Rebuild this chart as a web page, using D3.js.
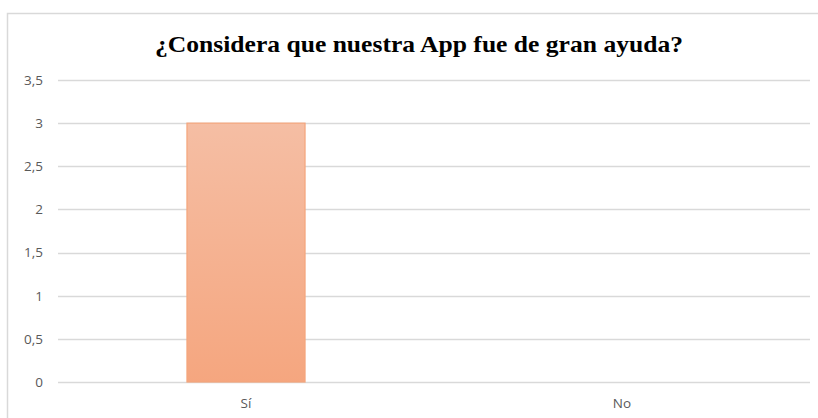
<!DOCTYPE html>
<html><head><meta charset="utf-8">
<script src="https://cdn.jsdelivr.net/npm/d3@7"></script>
<style>body{margin:0;background:#fff}svg{display:block}</style>
</head><body>
<svg id="c" width="818" height="418"></svg>
<script>
const categories = ["Sí", "No"];
const values = [3, 0];
const yTicks = [0, 0.5, 1, 1.5, 2, 2.5, 3, 3.5];
const title = "¿Considera que nuestra App fue de gran ayuda?";

const svg = d3.select("#c");
const W = 818, H = 418;
const m = {left: 58, right: 8, top: 80, bottom: 36};

// chart border
svg.append("rect").attr("x", 7.5).attr("y", 13.5).attr("width", 830).attr("height", 430)
  .attr("fill", "#fff").attr("stroke", "#d9d9d9").attr("stroke-width", 1.5);

const x = d3.scaleBand().domain(categories).range([m.left, W - m.right])
  .paddingInner(0.686).paddingOuter(0.343);
const y = d3.scaleLinear().domain([0, 3.5]).range([H - m.bottom, m.top]);

const defs = svg.append("defs");
const g = defs.append("linearGradient").attr("id", "bg").attr("x1", 0).attr("y1", 0).attr("x2", 0).attr("y2", 1);
g.append("stop").attr("offset", "0%").attr("stop-color", "#f5bea4");
g.append("stop").attr("offset", "100%").attr("stop-color", "#f5a67f");

// grid
svg.append("g").selectAll("line").data(yTicks).join("line")
  .attr("x1", m.left).attr("x2", W - m.right)
  .attr("y1", d => Math.round(y(d)) + 0.5).attr("y2", d => Math.round(y(d)) + 0.5)
  .attr("stroke", "#d9d9d9").attr("stroke-width", 1.3);

// y axis labels
const fmt = d => String(d).replace(".", ",");
const yAxis = d3.axisLeft(y).tickValues(yTicks).tickFormat(fmt).tickSize(0).tickPadding(15);
const ya = svg.append("g").attr("transform", `translate(${m.left},0)`).call(yAxis);
ya.select(".domain").remove();
ya.selectAll("text").attr("fill", "#595959").attr("font-family", "'Open Sans', sans-serif").attr("font-size", 13.5);

// x axis labels
const xAxis = d3.axisBottom(x).tickSize(0).tickPadding(16);
const xa = svg.append("g").attr("transform", `translate(0,${H - m.bottom})`).call(xAxis);
xa.select(".domain").remove();
xa.selectAll("text").attr("fill", "#595959").attr("font-family", "'Open Sans', sans-serif").attr("font-size", 13.5);

// bars
svg.append("g").selectAll("rect").data(categories.map((c, i) => ({c, v: values[i]})).filter(d => d.v > 0)).join("rect")
  .attr("x", d => x(d.c)).attr("width", x.bandwidth())
  .attr("y", d => y(d.v)).attr("height", d => y(0) - y(d.v))
  .attr("fill", "url(#bg)").attr("stroke", "#f4a57c").attr("stroke-width", 1.2);

// title
svg.append("text").attr("x", 419).attr("y", 52).attr("text-anchor", "middle")
  .attr("font-family", "'Liberation Serif', 'Times New Roman', serif").attr("font-weight", "bold")
  .attr("font-size", 24).attr("fill", "#000")
  .attr("textLength", 528).attr("lengthAdjust", "spacingAndGlyphs")
  .text(title);
</script>
</body></html>
